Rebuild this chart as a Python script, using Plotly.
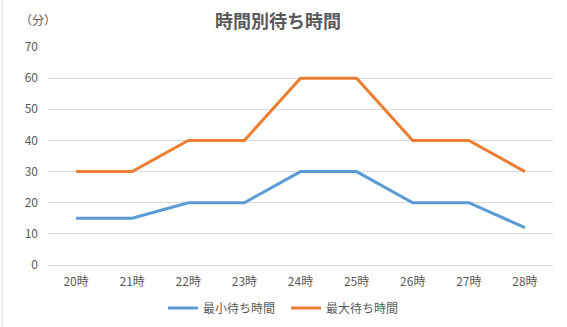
import plotly.graph_objects as go

categories = ["20時", "21時", "22時", "23時", "24時", "25時", "26時", "27時", "28時"]
min_wait = [15, 15, 20, 20, 30, 30, 20, 20, 12]
max_wait = [30, 30, 40, 40, 60, 60, 40, 40, 30]
y_ticks = [0, 10, 20, 30, 40, 50, 60, 70]

FONT = "Noto Sans CJK JP"
GRAY = "#595959"
GRID = "#D9D9D9"

fig = go.Figure()
fig.add_trace(go.Scatter(x=categories, y=min_wait, mode="lines", name="最小待ち時間",
                         line=dict(color="#5B9BD5", width=3)))
fig.add_trace(go.Scatter(x=categories, y=max_wait, mode="lines", name="最大待ち時間",
                         line=dict(color="#ED7D31", width=3)))

fig.update_layout(
    width=567, height=327,
    margin=dict(l=48, r=14, t=47, b=62, autoexpand=False),
    paper_bgcolor="white", plot_bgcolor="white",
    font=dict(family=FONT, color=GRAY, size=12),
    title=dict(text="<b>時間別待ち時間</b>", x=278 / 567, xanchor="center", y=1 - 22 / 327, yanchor="middle",
               font=dict(family=FONT, size=18, color=GRAY)),
    showlegend=True,
    legend=dict(orientation="h", xref="container", x=286 / 567, xanchor="center",
                yref="container", y=1 - 308 / 327, yanchor="middle",
                entrywidth=78, entrywidthmode="pixels",
                font=dict(family=FONT, size=12, color=GRAY)),
    xaxis=dict(type="category", range=[-0.5, 8.5], showgrid=False, zeroline=False, ticks="",
               showline=True, linecolor=GRID, linewidth=1, ticklabelstandoff=6,
               tickfont=dict(family=FONT, size=12, color=GRAY)),
    yaxis=dict(range=[0, 70], tickvals=y_ticks, showgrid=True, gridcolor=GRID, gridwidth=1,
               zeroline=False, showline=False, ticks="", ticklabelstandoff=9,
               tickfont=dict(family=FONT, size=12, color=GRAY)),
    annotations=[dict(text="（分）", xref="paper", yref="paper", x=-(48 - 18) / 505, y=1 + 27 / 218,
                      xanchor="left", yanchor="middle", showarrow=False,
                      font=dict(family=FONT, size=12, color=GRAY))],
    shapes=[dict(type="line", xref="paper", yref="paper", x0=-(48 - 2) / 505, x1=-(48 - 2) / 505,
                 y0=-62 / 218, y1=1 + 47 / 218, line=dict(color=GRID, width=1))],
)

fig.write_html("out.html")
